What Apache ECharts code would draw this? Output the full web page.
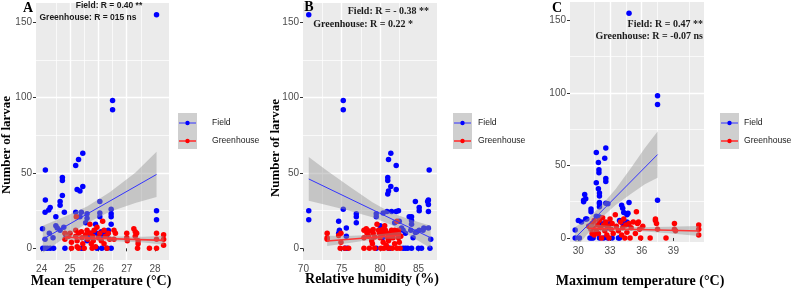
<!DOCTYPE html>
<html><head><meta charset="utf-8">
<script src="https://cdn.jsdelivr.net/npm/echarts@6/dist/echarts.min.js"></script>
<style>html,body{margin:0;padding:0;background:#fff}#c{width:794px;height:289px}</style>
</head><body><div id="c"></div>
<script>
// ---------------- DATA ----------------
const meanTempField = [[28.05,155],[26.5,98],[26.5,92],[25.45,63],[25.3,59],[25.2,55],[25.45,41],[25.25,39],[25.35,38],
[24.13,52],[24.13,32],[24.3,27],[24.25,25.5],[24.12,24],[24.73,47],[24.73,45],[24.73,35],[24.65,31],[24.65,28.5],[24.8,24],
[24.5,21],[24.5,15],[24.55,13.5],[24.65,12],[24.78,14],[24.03,13],[24.27,10],[24.12,6],[24.4,7],[24.85,9],
[25.2,24],[25.4,24],[25.35,21],[25.6,23],[25.6,20],[25.55,17],[25.7,10],[25.65,7],[25.6,5],
[26.05,31],[26.05,23.5],[26.05,21],[26.45,26],[26.45,23],[26.45,21],[26.45,16],
[25.9,16],[25.85,11],[25.95,10],[26.1,11],[26.2,11],[26.35,12],[26.15,8],[26.3,9],[28.05,25],[28.05,19],
[24.04,0],[24.12,0],[24.2,0],[24.3,0],[24.42,0],[24.82,0],[25.4,0],[25.47,0],[25.95,0],[26.12,0],[26.3,0],[26.45,0]];
const meanTempGreen = [[24.82,6],[24.82,10],[24.95,8],[25.0,10],[25.05,4],[25.05,0],[25.2,12],[25.2,8],[25.22,21],[25.25,5],[25.25,1],[25.3,0],[25.3,10],
[25.4,11],[25.42,7],[25.45,3],[25.5,0],[25.55,9],[25.6,12],[25.62,6],[25.7,16],[25.72,10],[25.75,3],[25.78,0],[25.8,8],[25.82,5],[25.85,12],[25.9,1],
[25.95,14],[26.0,7],[26.05,10],[26.1,5],[26.15,18],[26.2,12],[26.2,3],[26.25,8],[26.3,0],[26.35,10],[26.4,6],[26.55,12],[26.55,6],[26.6,10],
[27.0,10],[27.0,7],[27.02,5],[27.25,13],[27.3,11],[27.3,8],[27.35,10],[27.4,5],[27.4,3],[27.38,0],[27.8,0],[28.05,10],[28.05,6],[28.05,0],[28.3,9],[28.3,6],[28.3,2]];
const humidityField = [[70.7,155],[75.2,98],[75.2,92],[81.4,63],[81.1,59],[82.1,55],[81.0,47],[81.0,45],[81.4,41],[82.1,39],[81.1,38],[81.0,36],[86.4,52],
[70.7,25],[70.7,19],[75.2,26],[74.6,18],[74.6,10],[74.7,12],[75.6,13.5],[75.6,8],[76.9,23],[76.9,21],[76.9,17],[79.5,23],[79.5,21],[80.4,23.5],[80.9,24.5],
[81.5,24.5],[82.1,24.5],[82.4,25],[80.0,15],[80.2,11],[80.3,7],[81.9,17],[82.5,18],[82.8,13.5],[83.0,12],[83.8,21],[84.1,21],[84.1,18.5],[84.1,16],[84.0,12],
[84.3,7],[84.6,31],[85.1,27],[85.1,25],[84.6,10.5],[85.1,12],[85.6,12],[85.7,13.5],[86.3,13.5],[86.3,29],[86.3,32],[86.2,31],[86.3,24.5],[86.6,6],[83.3,10],[84.8,11],
[75.4,0],[75.7,0],[79.5,0],[81.1,0],[81.3,0],[83.0,0],[83.3,0],[83.6,0],[84.1,0],[85.0,0],[85.4,0],[86.5,0]];
const humidityGreen = [[73.1,10],[73.1,7],[73.1,6],[74.6,8.5],[74.9,10],[74.9,4],[74.8,0],[75.4,0],[75.9,0],[77.9,12],[77.9,7],[77.9,0],[78.2,13],[78.3,10],
[78.6,11.5],[78.6,0],[78.9,5],[79.1,12.5],[79.1,10],[79.3,7.5],[79.3,0],[79.6,16],[79.8,12],[79.9,10],[80.0,7],[80.1,0],[80.3,12.5],[80.4,9.5],[80.4,4],
[80.5,0],[80.6,15],[80.7,12],[80.9,10],[81.0,7],[81.1,5],[81.1,0],[81.3,10],[81.4,7],[81.5,12],[81.6,0],[81.7,7],[81.8,10],[81.9,12],[82.2,0],[82.2,18],
[82.4,12],[82.4,10],[82.4,7],[82.5,4],[82.6,0],[82.7,8],[78.5,8],[79.0,3],[80.8,2],[81.9,3]];
const maxTempField = [[34.8,155],[37.5,98],[37.5,92],[37.5,26],[32.6,62],[31.7,59],[32.5,55],[31.9,52],[31.95,47],[31.95,45],[32.6,41],[32.6,39],[31.7,38],
[31.9,34],[32.0,31],[32.0,29],[30.5,26],[30.5,25],[30.6,30],[30.7,27],[30.0,12],[30.3,11],[30.7,13],[30.8,13],[31.0,8],[29.7,5.5],
[31.2,20],[31.2,18],[31.7,15],[32.0,24.5],[32.0,23.5],[32.0,21.5],[32.0,14.5],[32.0,10.5],[32.6,24],[32.8,23.5],[32.5,10.5],[32.8,7],[33.0,10],
[33.9,12],[34.1,22.5],[34.2,20.5],[34.3,17.5],[34.2,10],[34.6,11],[34.7,9.5],[34.6,16],[34.7,17],[34.8,24.5],
[29.7,0],[30.1,0],[31.1,0],[31.25,0],[31.4,0],[32.0,0],[32.4,0],[32.8,0],[33.2,0],[33.8,0],[33.9,0]];
const maxTempGreen = [[31.0,8],[31.2,6],[31.3,3],[31.3,10],[31.4,7],[31.5,2],[31.5,12],[31.7,5],[31.8,9],[31.9,3],[32.0,12],[32.1,7],[32.2,0],[32.3,14],
[32.4,9],[32.5,5],[32.6,11],[32.7,2],[32.8,8],[32.9,0],[33.0,13],[33.1,6],[33.2,10],[33.3,3],[33.5,16],[33.6,8],[33.8,5],[34.0,11],[34.1,2],[34.2,7],
[34.3,13],[34.4,0],[34.5,9],[34.6,4],[34.8,10],[34.9,0],[35.0,7],[35.2,11],[35.4,3],[35.5,18],[35.6,10],[35.7,11],[35.8,6],[35.9,0],[36.1,8],[36.8,0],
[37.3,12],[37.3,13],[37.4,10],[37.5,6],[38.3,0],[39.1,10],[39.1,6],[39.2,5],[41.4,9],[41.4,6],[41.4,2]];

// fitted lines and confidence bands [x, lower, upper]
const fitMeanTempField = [[24.04,6],[28.05,49]];
const fitMeanTempGreen = [[24.82,7.3],[28.3,5.3]];
const bandMeanTempField = [[24.04,-3,15],[24.8,6.9,20.9],[25.6,16.8,27.8],[26.4,24.2,37.2],[27.3,30.1,50.1],[28.05,34,64]];
const bandMeanTempGreen = [[24.82,5.5,9.1],[25.8,5.4,8.4],[26.8,4.5,7.9],[27.6,3.8,7.6],[28.3,2.3,8.3]];
const fitHumidityField = [[70.7,46],[86.6,7]];
const fitHumidityGreen = [[73.1,4.9],[82.7,8.7]];
const bandHumidityField = [[70.7,31.5,60.5],[73,28.8,51.8],[76,25,41],[79,20.6,30.6],[81.5,15.4,23.4],[84,8,19],[86.6,0,15]];
const bandHumidityGreen = [[73.1,1.5,8.3],[75.5,3.2,8.2],[78,5.0,8.6],[80.5,6.4,9.6],[82.7,6.4,11]];
const fitMaxTempField = [[29.7,0],[37.5,57.5]];
const fitMaxTempGreen = [[31.0,6.7],[41.4,4.8]];
const bandMaxTempField = [[29.7,-7.5,7.5],[31,4,14],[32.2,14,22.5],[33.5,22.5,33.5],[35,30.5,48.5],[36.3,37,62],[37.5,41.5,73.5]];
const bandMaxTempGreen = [[31.0,3.7,9.7],[33.5,5,8],[36,4.6,7.4],[38.5,3.3,7.7],[41.4,1.3,8.3]];

// ticks
const meanTempTicks = [24,25,26,27,28];
const humidityTicks = [70,75,80,85];
const maxTempTicks = [30,33,36,39];
const larvaeTicks = [0,50,100,150];

const seriesNames = ['Field','Greenhouse'];
const annotations = [
  ['Field: R = 0.40 **','Greenhouse: R = 015 ns'],
  ['Field: R = - 0.38 **','Greenhouse: R = 0.22 *'],
  ['Field: R = 0.47 **','Greenhouse: R = -0.07 ns']
];
const panelLetters = ['A','B','C'];
const xTitles = ['Mean temperature (°C)','Relative humidity (%)','Maximum temperature (°C)'];
const yTitle = 'Number of larvae';

// ---------------- CHART ----------------
const BLUE = '#0000FF', RED = '#FF0000';
const SERIF = '"Liberation Serif", "DejaVu Serif", serif';
const SANS = '"Liberation Sans", Arial, sans-serif';

// splitNumber chosen so the automatic nice interval equals the tick step (1, 5, 3 and 50)
const panels = [
  {grid:{left:36, top:3, width:133, height:257}, xmin:23.8, xmax:28.49, ymin:-7.75, ymax:162.75, xSplit:5,
   ticks:meanTempTicks, field:meanTempField, green:meanTempGreen,
   fitF:fitMeanTempField, fitG:fitMeanTempGreen, bandF:bandMeanTempField, bandG:bandMeanTempGreen,
   yTitlePos:[7,145], xTitlePos:[101,281]},
  {grid:{left:303, top:3, width:134, height:257}, xmin:69.95, xmax:87.42, ymin:-7.75, ymax:162.75, xSplit:3,
   ticks:humidityTicks, field:humidityField, green:humidityGreen,
   fitF:fitHumidityField, fitG:fitHumidityGreen, bandF:bandHumidityField, bandG:bandHumidityGreen,
   yTitlePos:[276,148], xTitlePos:[372,279]},
  {grid:{left:570, top:2, width:134, height:240}, xmin:29.21, xmax:41.9, ymin:-2.8, ymax:162.75, xSplit:4,
   ticks:maxTempTicks, field:maxTempField, green:maxTempGreen,
   fitF:fitMaxTempField, fitG:fitMaxTempGreen, bandF:bandMaxTempField, bandG:bandMaxTempGreen,
   yTitlePos:[537,140], xTitlePos:[640,281]}
];

function bandRender(band){
  return function(params, api){
    if (params.dataIndex !== 0) return null;
    const pts = [];
    for (let i=0;i<band.length;i++) pts.push(api.coord([band[i][0], band[i][2]]));
    for (let i=band.length-1;i>=0;i--) pts.push(api.coord([band[i][0], band[i][1]]));
    const cs = params.coordSys;
    return {type:'polygon', shape:{points:pts}, style:{fill:'rgba(150,150,150,0.45)'},
      clipPath:{type:'rect', shape:{x:cs.x, y:cs.y, width:cs.width, height:cs.height}}};
  };
}

const splitLineOpt = {show:true, showMinLine:false, showMaxLine:false, lineStyle:{color:'#FFFFFF', width:1.4, type:'solid'}};
const minorSplitOpt = {show:true, lineStyle:{color:'#FFFFFF', width:0.7, type:'solid'}};

const grids=[], xAxes=[], yAxes=[], series=[];
panels.forEach((p,i)=>{
  grids.push(Object.assign({show:true, z:0, backgroundColor:'#EBEBEB', borderWidth:0, outerBoundsMode:'none', containLabel:false}, p.grid));
  xAxes.push({type:'value', gridIndex:i, min:p.xmin, max:p.xmax, splitNumber:p.xSplit,
    axisLine:{show:false},
    axisTick:{show:true, length:3, lineStyle:{color:'#333', width:1}, customValues:p.ticks},
    axisLabel:{show:true, customValues:p.ticks, fontSize:10, color:'#4D4D4D', margin:4, fontFamily:SANS},
    minorTick:{show:false, splitNumber:2},
    splitLine:splitLineOpt, minorSplitLine:minorSplitOpt});
  yAxes.push({type:'value', gridIndex:i, min:p.ymin, max:p.ymax, splitNumber:4,
    axisLine:{show:false},
    axisTick:{show:true, length:3, lineStyle:{color:'#333', width:1}, customValues:larvaeTicks},
    axisLabel:{show:true, customValues:larvaeTicks, fontSize:10, color:'#4D4D4D', margin:4, fontFamily:SANS},
    minorTick:{show:false, splitNumber:2},
    splitLine:splitLineOpt, minorSplitLine:minorSplitOpt});
  const common = {xAxisIndex:i, yAxisIndex:i, silent:true};
  series.push({type:'scatter', name:seriesNames[0], xAxisIndex:i, yAxisIndex:i, data:p.field, z:4,
    symbolSize:5.5, itemStyle:{color:BLUE, opacity:1}});
  series.push({type:'scatter', name:seriesNames[1], xAxisIndex:i, yAxisIndex:i, data:p.green, z:5,
    symbolSize:5.5, itemStyle:{color:RED, opacity:1}});
  series.push(Object.assign({type:'custom', data:p.bandF, z:6, encode:{x:0, y:[1,2]}, renderItem:bandRender(p.bandF)}, common));
  series.push(Object.assign({type:'custom', data:p.bandG, z:6, encode:{x:0, y:[1,2]}, renderItem:bandRender(p.bandG)}, common));
  series.push(Object.assign({type:'line', data:p.fitF, z:7, showSymbol:false, lineStyle:{color:'#3333FF', width:1}}, common));
  series.push(Object.assign({type:'line', data:p.fitG, z:7, showSymbol:false, lineStyle:{color:'#FF3333', width:1.6}}, common));
});

// texts and legends
const graphic = [];
const letterPos = [[28,8],[309,7],[557,8]];
panelLetters.forEach((t,i)=>graphic.push({type:'text', x:letterPos[i][0], y:letterPos[i][1], z:100,
  style:{text:t, fontFamily:SERIF, fontWeight:'bold', fontSize:14, fill:'#000', align:'center', verticalAlign:'middle'}}));
panels.forEach((p,i)=>{
  graphic.push({type:'text', x:p.xTitlePos[0], y:p.xTitlePos[1], z:100,
    style:{text:xTitles[i], fontFamily:SERIF, fontWeight:'bold', fontSize:14, fill:'#000', align:'center', verticalAlign:'middle'}});
  graphic.push({type:'text', x:p.yTitlePos[0], y:p.yTitlePos[1], rotation:Math.PI/2, z:100,
    style:{text:yTitle, fontFamily:SERIF, fontWeight:'bold', fontSize:13, fill:'#000', align:'center', verticalAlign:'middle'}});
});

const annStyle = [
  {font:SANS, size:8.5, pos:[[109,6,'center'],[88,18,'center']]},
  {font:SERIF, size:10, pos:[[429,11,'right'],[413,24,'right']]},
  {font:SERIF, size:10, pos:[[703,24,'right'],[703,36,'right']]}
];
annotations.forEach((pair,i)=>pair.forEach((t,j)=>{
  const s = annStyle[i];
  graphic.push({type:'text', x:s.pos[j][0], y:s.pos[j][1], z:100,
    style:{text:t, fontFamily:s.font, fontWeight:'bold', fontSize:s.size, fill:'#1a1a1a', align:s.pos[j][2], verticalAlign:'middle'}});
}));

const legendPos = [[178,113,212],[453,113,478],[720,113,744]];
legendPos.forEach(([lx,ly,tx])=>{
  graphic.push({type:'rect', shape:{x:lx, y:ly, width:19, height:36}, style:{fill:'#CFCFCF'}, z:100});
  [[BLUE,'#3333FF',ly+10,seriesNames[0],1],[RED,'#FF3333',ly+28,seriesNames[1],1.6]].forEach(([pc,lc,yy,txt,lw])=>{
    graphic.push({type:'line', shape:{x1:lx+1, y1:yy, x2:lx+18, y2:yy}, style:{stroke:lc, lineWidth:lw}, z:101});
    graphic.push({type:'circle', shape:{cx:lx+9.5, cy:yy, r:2.2}, style:{fill:pc}, z:102});
    graphic.push({type:'text', x:tx, y:yy, z:101,
      style:{text:txt, fontFamily:SANS, fontSize:8.6, fill:'#1a1a1a', align:'left', verticalAlign:'middle'}});
  });
});
// C panel's y title is cut by the panel border in the original figure
graphic.push({type:'rect', shape:{x:530, y:60, width:10, height:180}, style:{fill:'#FFFFFF'}, z:200});

const chart = echarts.init(document.getElementById('c'), null, {renderer:'canvas'});
chart.setOption({animation:false, grid:grids, xAxis:xAxes, yAxis:yAxes, series, graphic, tooltip:{show:false}});
</script></body></html>
